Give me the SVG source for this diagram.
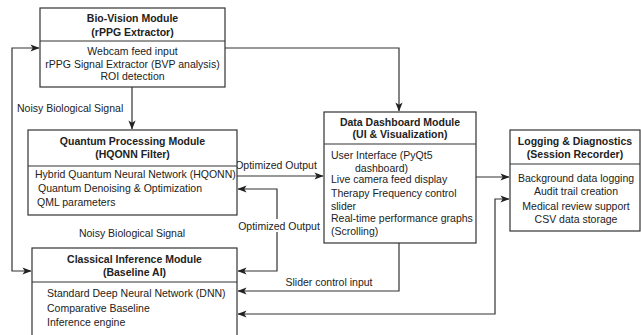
<svg xmlns="http://www.w3.org/2000/svg" width="641" height="335" viewBox="0 0 641 335">
<defs>
<marker id="arr" viewBox="0 0 10 8" refX="9.5" refY="4" markerWidth="9" markerHeight="7.5" markerUnits="userSpaceOnUse" orient="auto-start-reverse">
<path d="M0,0 L10,4 L0,8 L2.5,4 Z" fill="#222"/>
</marker>
<style>
.box{fill:#fff;stroke:#333;stroke-width:1.2}
.sep{stroke:#333;stroke-width:1.2}
.t{font-family:"Liberation Sans",Arial,sans-serif;font-size:10.5px;fill:#222}
.b{font-weight:bold;text-anchor:middle}
.c{text-anchor:middle}
.e{fill:none;stroke:#333;stroke-width:1.2}
</style>
</defs>
<rect width="641" height="335" fill="#fff"/>
<g id="connectors">
<path class="e" d="M225,48 H399 V111" marker-end="url(#arr)"/>
<path class="e" d="M132,87 V129" marker-end="url(#arr)"/>
<path class="e" d="M237,176 H323" marker-end="url(#arr)"/>
<path class="e" d="M238,189 H277 V271 H238" marker-start="url(#arr)" marker-end="url(#arr)"/>
<path class="e" d="M399,243 V291 H238" marker-end="url(#arr)"/>
<path class="e" d="M509,199 H495 V314 H238" marker-start="url(#arr)" marker-end="url(#arr)"/>
<path class="e" d="M476,177 H509" marker-end="url(#arr)"/>
<path class="e" d="M31,271 H12 V48 H39" marker-start="url(#arr)" marker-end="url(#arr)"/>
<rect x="238" y="219" width="82" height="13" fill="#fff"/>
<text class="t" x="17" y="112">Noisy Biological Signal</text>
<text class="t c" x="276" y="169">Optimized Output</text>
<text class="t c" x="279" y="230">Optimized Output</text>
<text class="t c" x="329" y="286">Slider control input</text>
<text class="t c" x="132" y="237">Noisy Biological Signal</text>
</g>
<g id="bio-vision">
<rect class="box" x="40" y="8" width="185" height="79"/>
<line class="sep" x1="40" y1="41" x2="225" y2="41"/>
<text class="t b" x="132.5" y="22">Bio-Vision Module</text>
<text class="t b" x="132.5" y="36">(rPPG Extractor)</text>
<text class="t c" x="132.5" y="55">Webcam feed input</text>
<text class="t c" x="132.5" y="67.5">rPPG Signal Extractor (BVP analysis)</text>
<text class="t c" x="132.5" y="80">ROI detection</text>
</g>
<g id="quantum">
<rect class="box" x="28" y="130" width="209" height="85"/>
<line class="sep" x1="28" y1="166" x2="237" y2="166"/>
<text class="t b" x="132.5" y="145">Quantum Processing Module</text>
<text class="t b" x="132.5" y="158">(HQONN Filter)</text>
<text class="t" x="35" y="178">Hybrid Quantum Neural Network (HQONN)</text>
<text class="t" x="38" y="192">Quantum Denoising &amp; Optimization</text>
<text class="t" x="37" y="206">QML parameters</text>
</g>
<g id="classical">
<rect class="box" x="32" y="248" width="205" height="100"/>
<line class="sep" x1="32" y1="282" x2="237" y2="282"/>
<text class="t b" x="134.5" y="263">Classical Inference Module</text>
<text class="t b" x="134.5" y="276">(Baseline AI)</text>
<text class="t" x="47" y="297">Standard Deep Neural Network (DNN)</text>
<text class="t" x="47" y="311.5">Comparative Baseline</text>
<text class="t" x="47" y="326">Inference engine</text>
</g>
<g id="dashboard">
<rect class="box" x="324" y="112" width="152" height="131"/>
<line class="sep" x1="324" y1="144" x2="476" y2="144"/>
<text class="t b" x="400" y="126">Data Dashboard Module</text>
<text class="t b" x="400" y="138">(UI &amp; Visualization)</text>
<text class="t" x="331" y="159">User Interface (PyQt5</text>
<text class="t" x="355" y="172">dashboard)</text>
<text class="t" x="331" y="183">Live camera feed display</text>
<text class="t" x="331" y="197">Therapy Frequency control</text>
<text class="t" x="331" y="210">slider</text>
<text class="t" x="331" y="222">Real-time performance graphs</text>
<text class="t" x="331" y="235">(Scrolling)</text>
</g>
<g id="logging">
<rect class="box" x="510" y="130" width="130" height="101"/>
<line class="sep" x1="510" y1="164" x2="640" y2="164"/>
<text class="t b" x="575" y="145">Logging &amp; Diagnostics</text>
<text class="t b" x="575" y="158">(Session Recorder)</text>
<text class="t c" x="576" y="182">Background data logging</text>
<text class="t c" x="576" y="195">Audit trail creation</text>
<text class="t c" x="576" y="210">Medical review support</text>
<text class="t c" x="576" y="223">CSV data storage</text>
</g>
</svg>
